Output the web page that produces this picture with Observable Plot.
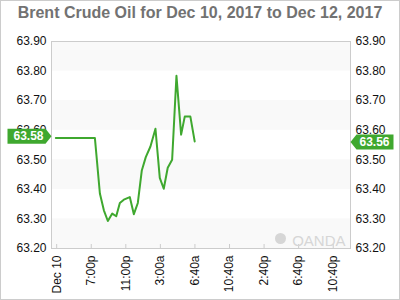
<!DOCTYPE html>
<html><head><meta charset="utf-8">
<script src="https://cdn.jsdelivr.net/npm/d3@7"></script>
<script src="https://cdn.jsdelivr.net/npm/@observablehq/plot@0.6"></script>
<style>
body{margin:0;background:#fff;}
#wrap{position:relative;width:400px;height:300px;font-family:"Liberation Sans",Arial,sans-serif;overflow:hidden;}
#title{position:absolute;left:0;top:4px;width:400px;text-align:center;font-size:16px;line-height:18px;font-weight:bold;color:#727272;white-space:nowrap;z-index:2;}
#chart{position:absolute;left:0;top:0;}
#border{position:absolute;left:0;top:0;width:400px;height:300px;border:1px solid #ccc;box-sizing:border-box;pointer-events:none;}
</style></head><body>
<div id="wrap"><div id="title"></div><div id="chart"></div><div id="border"></div></div>
<script>
const titleText = "Brent Crude Oil for Dec 10, 2017 to Dec 12, 2017";
// hours after Dec 10, 3:00p (session time)
const hours = [-0.1, 4.42, 5.0, 5.46, 5.92, 6.43, 6.89, 7.31, 7.77, 8.46, 8.93, 9.39, 9.85, 10.31, 10.85, 11.43, 11.93, 12.39, 12.85, 13.36, 13.86, 14.4, 14.82, 15.47, 15.97];
const prices = [63.574, 63.574, 63.386, 63.329, 63.293, 63.318, 63.309, 63.354, 63.365, 63.374, 63.316, 63.354, 63.464, 63.509, 63.545, 63.605, 63.439, 63.402, 63.473, 63.50, 63.784, 63.585, 63.646, 63.646, 63.562];
const xTickHours = [0, 4, 8, 12, 16, 20, 24, 28, 32];
const xTickLabels = ["Dec 10", "7:00p", "11:00p", "3:00a", "6:40a", "10:40a", "2:40p", "6:40p", "10:40p"];
const yTicks = [63.2, 63.3, 63.4, 63.5, 63.6, 63.7, 63.8, 63.9];
const openPrice = 63.58;
const lastPrice = 63.56;
const watermark = "OANDA";

document.getElementById("title").textContent = titleText;

const green = "#3fa82f";
const rows = hours.map((h, i) => ({h, p: prices[i]}));
const bands = yTicks.filter((d, i) => i % 2 === 0 && i < yTicks.length - 1);

const leftTag = {draw(ctx) {
  ctx.moveTo(0, 0); ctx.lineTo(-6, -7.5); ctx.lineTo(-44, -7.5);
  ctx.lineTo(-44, 7.5); ctx.lineTo(-6, 7.5); ctx.closePath();
}};
const rightTag = {draw(ctx) {
  ctx.moveTo(0, 0); ctx.lineTo(6, -7.5); ctx.lineTo(43, -7.5);
  ctx.lineTo(43, 7.5); ctx.lineTo(6, 7.5); ctx.closePath();
}};

const chart = Plot.plot({
  width: 400, height: 300,
  marginLeft: 51, marginRight: 50, marginTop: 41, marginBottom: 52,
  style: {fontFamily: "Liberation Sans, Arial, sans-serif", fontSize: "12px", color: "#111", background: "transparent"},
  x: {domain: [-0.6, 34]},
  y: {domain: [63.2, 63.9]},
  marks: [
    Plot.rectY(bands, {y1: d => d, y2: d => d + 0.1, fill: "#f9f9f9"}),
    Plot.frame({stroke: "#ccc"}),
    Plot.tickX(xTickHours, {x: d => d, stroke: "#ccc", insetTop: 203}),
    Plot.dot([0], {frameAnchor: "bottom-right", dx: -70, dy: -10, r: 5.5, fill: "#d6d6d6"}),
    Plot.text([watermark], {frameAnchor: "bottom-right", dx: -5, dy: -3, textAnchor: "end", lineAnchor: "bottom", fill: "#d6d6d6", fontSize: 15, fontWeight: 300}),
    Plot.axisY(yTicks, {anchor: "left", label: null, tickSize: 0, tickPadding: 5, tickFormat: d => d.toFixed(2), fontSize: 12}),
    Plot.axisY(yTicks, {anchor: "right", label: null, tickSize: 0, tickPadding: 5, tickFormat: d => d.toFixed(2), fontSize: 12}),
    Plot.axisX(xTickHours, {anchor: "bottom", label: null, tickSize: 0, tickPadding: 7, tickRotate: -90, tickFormat: d => xTickLabels[xTickHours.indexOf(d)], fontSize: 12}),
    Plot.line(rows, {x: "h", y: "p", stroke: green, strokeWidth: 2}),
    Plot.dot([openPrice], {y: d => d, frameAnchor: "left", symbol: leftTag, fill: green, stroke: "none"}),
    Plot.text([openPrice], {y: d => d, frameAnchor: "left", dx: -23, textAnchor: "middle", text: d => d.toFixed(2), fill: "white", fontWeight: "bold", fontSize: 12}),
    Plot.dot([lastPrice], {y: d => d, frameAnchor: "right", symbol: rightTag, fill: green, stroke: "none"}),
    Plot.text([lastPrice], {y: d => d, frameAnchor: "right", dx: 24, textAnchor: "middle", text: d => d.toFixed(2), fill: "white", fontWeight: "bold", fontSize: 12})
  ]
});
document.getElementById("chart").appendChild(chart);
</script>
</body></html>
